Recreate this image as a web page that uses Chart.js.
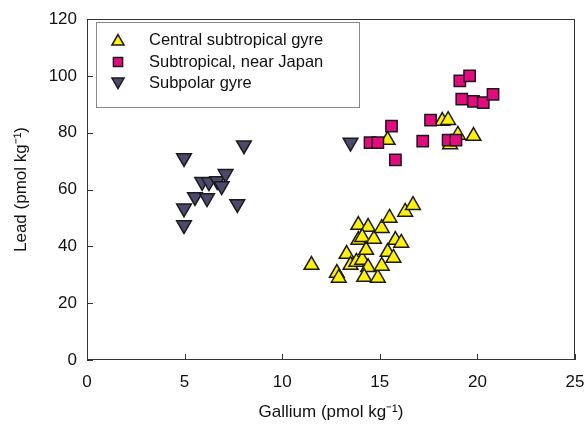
<!DOCTYPE html>
<html><head><meta charset="utf-8">
<script src="https://cdn.jsdelivr.net/npm/chart.js@4.4.0/dist/chart.umd.min.js"></script>
<style>html,body{margin:0;padding:0;background:#fff;}#wrap{width:588px;height:427px;}</style>
</head><body><div id="wrap"><canvas id="c" width="588" height="427"></canvas></div>
<script>
const seriesNames = ["Central subtropical gyre", "Subtropical, near Japan", "Subpolar gyre"];
const xTitle = "Gallium (pmol kg\u207B\u00B9)";
const yTitle = "Lead (pmol kg\u207B\u00B9)";
const xTicks = [0, 5, 10, 15, 20, 25];
const yTicks = [0, 20, 40, 60, 80, 100, 120];

const centralGa = [18.2, 18.5, 15.4, 19.0, 19.8, 18.6,
  11.5, 12.8, 12.9, 13.3, 13.5, 13.9, 13.9, 13.8, 14.1, 14.4, 14.1, 14.3, 14.7, 14.4, 14.2, 14.9, 15.1, 15.1, 15.5, 15.8, 16.1, 15.4, 15.7, 16.3, 16.7];
const centralPb = [84.1, 84.4, 77.4, 79.2, 78.8, 75.8,
  33.4, 30.6, 28.9, 37.3, 33.4, 47.5, 42.2, 34.5, 35.2, 46.8, 43.2, 38.7, 42.6, 32.6, 29.2, 28.9, 33.1, 46.4, 50.0, 42.2, 41.2, 38.0, 35.9, 52.1, 54.5];
const japanGa = [19.1, 19.6, 19.2, 19.8, 20.3, 20.8, 17.6, 15.6, 14.5, 14.9, 17.2, 18.5, 18.9, 15.8];
const japanPb = [98.2, 100.0, 91.8, 91.0, 90.6, 93.5, 84.4, 82.3, 76.5, 76.5, 77.0, 77.4, 77.4, 70.4];
const subpolarGa = [4.97, 8.04, 5.9, 6.25, 6.67, 7.1, 6.9, 5.53, 6.15, 4.97, 7.7, 4.97, 13.5];
const subpolarPb = [71.1, 75.6, 62.7, 62.6, 63.0, 65.5, 61.2, 57.4, 57.0, 53.4, 54.9, 47.5, 76.5];

const pts = (xs, ys) => xs.map((v, i) => ({x: v, y: ys[i]}));

const styles = [
  {pointStyle: 'triangle', rotation: 0, bg: '#FFF200', r: 8.5},
  {pointStyle: 'rect', rotation: 0, bg: '#E6097F', r: 8},
  {pointStyle: 'triangle', rotation: 180, bg: '#4B4A6E', r: 8.5}
];
const datasetsData = [pts(centralGa, centralPb), pts(japanGa, japanPb), pts(subpolarGa, subpolarPb)];
const orders = [1, 0, 2];

const FONT = "'Liberation Sans', Arial, sans-serif";

const framePlugin = {
  id: 'frame',
  beforeDatasetsDraw(chart) {
    const {ctx, chartArea: a, scales: {x, y}} = chart;
    ctx.save();
    ctx.strokeStyle = '#333';
    ctx.lineWidth = 1;
    ctx.strokeRect(a.left + 0.5, a.top + 0.5, a.right - a.left - 1, a.bottom - a.top - 1);
    ctx.beginPath();
    x.ticks.forEach(t => {
      const px = Math.round(x.getPixelForValue(t.value)) + 0.5;
      ctx.moveTo(px, a.bottom); ctx.lineTo(px, a.bottom - 6);
    });
    y.ticks.forEach(t => {
      const py = Math.round(y.getPixelForValue(t.value)) + 0.5;
      ctx.moveTo(a.left, py); ctx.lineTo(a.left + 6, py);
    });
    ctx.stroke();
    ctx.restore();
  }
};

const legendPlugin = {
  id: 'customLegend',
  afterDraw(chart) {
    const ctx = chart.ctx;
    const bx = 96, by = 22, bw = 263, bh = 85;
    ctx.save();
    ctx.fillStyle = '#fff';
    ctx.fillRect(bx, by, bw, bh);
    ctx.strokeStyle = '#888';
    ctx.lineWidth = 1;
    ctx.strokeRect(bx + 0.5, by + 0.5, bw, bh);
    const rows = [40, 62, 83];
    seriesNames.forEach((name, i) => {
      const s = styles[i];
      ctx.fillStyle = s.bg;
      ctx.strokeStyle = '#1a1a1a';
      ctx.lineWidth = 1.5;
      Chart.helpers.drawPoint(ctx, {pointStyle: s.pointStyle, radius: s.pointStyle === 'rect' ? 6.5 : 7, rotation: s.rotation, borderWidth: 1.5}, 118, rows[i] + (s.pointStyle === 'triangle' ? (s.rotation ? -1.5 : 1.5) : 0));
      ctx.fillStyle = '#111';
      ctx.font = "16.5px " + FONT;
      ctx.textBaseline = 'middle';
      ctx.textAlign = 'left';
      ctx.fillText(name, 149, rows[i]);
    });
    ctx.restore();
  }
};

new Chart(document.getElementById('c'), {
  type: 'scatter',
  data: {
    datasets: datasetsData.map((d, i) => ({
      label: seriesNames[i],
      data: d,
      order: orders[i],
      pointStyle: styles[i].pointStyle,
      rotation: styles[i].rotation,
      pointRadius: styles[i].r,
      pointHoverRadius: styles[i].r,
      backgroundColor: styles[i].bg,
      borderColor: '#1a1a1a',
      borderWidth: 1.5
    }))
  },
  options: {
    responsive: false,
    animation: false,
    devicePixelRatio: 1,
    layout: {padding: {top: 19, right: 13, left: 0, bottom: 0}},
    plugins: {legend: {display: false}, tooltip: {enabled: false}},
    scales: {
      x: {
        type: 'linear', min: 0, max: 25,
        afterBuildTicks: s => { s.ticks = xTicks.map(v => ({value: v})); },
        afterFit: s => { s.height = 67; s.paddingRight = 0; s.paddingLeft = 0; },
        grid: {display: false, drawTicks: false},
        border: {display: false},
        ticks: {padding: 12, color: '#111', font: {family: FONT, size: 17}},
        title: {display: true, text: xTitle, color: '#111', font: {family: FONT, size: 17}, padding: {top: 0, bottom: 4}}
      },
      y: {
        type: 'linear', min: 0, max: 120,
        afterBuildTicks: s => { s.ticks = yTicks.map(v => ({value: v})); },
        afterFit: s => { s.width = 87; s.paddingTop = 0; s.paddingBottom = 0; },
        grid: {display: false, drawTicks: false},
        border: {display: false},
        ticks: {padding: 10, color: '#111', font: {family: FONT, size: 17}},
        title: {display: true, text: yTitle, color: '#111', font: {family: FONT, size: 17}, padding: {top: 11, bottom: 0}}
      }
    }
  },
  plugins: [framePlugin, legendPlugin]
});
</script>
</body></html>
